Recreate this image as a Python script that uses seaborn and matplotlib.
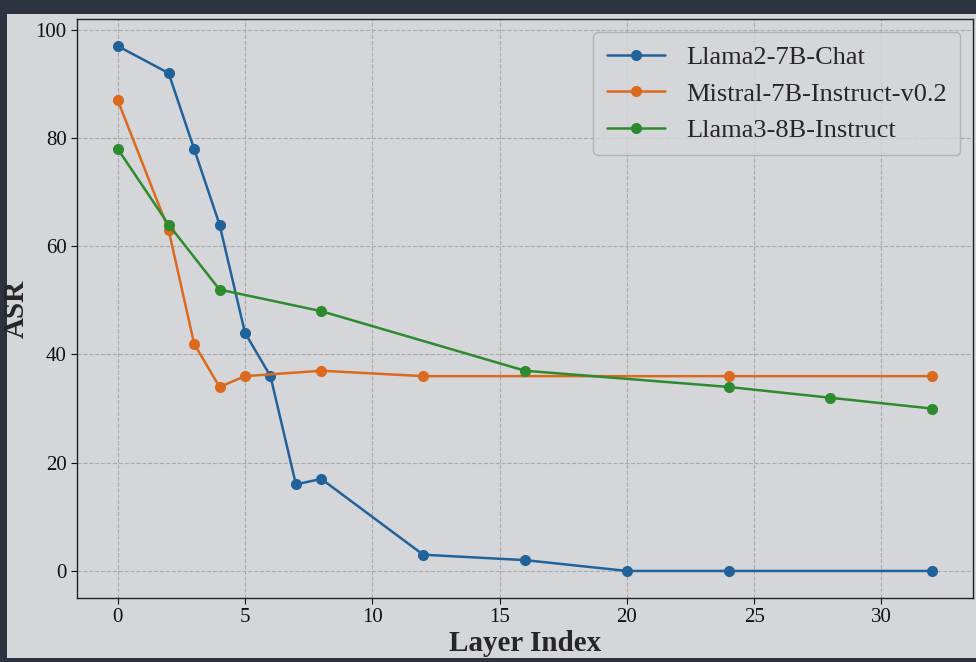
import matplotlib
matplotlib.use("Agg")
import matplotlib.pyplot as plt
import seaborn as sns
import pandas as pd

llama2_x = [0, 2, 3, 4, 5, 6, 7, 8, 12, 16, 20, 24, 32]
llama2_y = [97, 92, 78, 64, 44, 36, 16, 17, 3, 2, 0, 0, 0]
mistral_x = [0, 2, 3, 4, 5, 8, 12, 24, 32]
mistral_y = [87, 63, 42, 34, 36, 37, 36, 36, 36]
llama3_x = [0, 2, 4, 8, 16, 24, 28, 32]
llama3_y = [78, 64, 52, 48, 37, 34, 32, 30]
names = ["Llama2-7B-Chat", "Mistral-7B-Instruct-v0.2", "Llama3-8B-Instruct"]
colors = ["#22629a", "#dc6a1e", "#2e8a2e"]

df = pd.concat([
    pd.DataFrame({"Layer": llama2_x, "ASR": llama2_y, "Model": names[0]}),
    pd.DataFrame({"Layer": mistral_x, "ASR": mistral_y, "Model": names[1]}),
    pd.DataFrame({"Layer": llama3_x, "ASR": llama3_y, "Model": names[2]}),
])

sns.set_style("whitegrid")
plt.rcParams['font.family'] = ['Liberation Serif', 'DejaVu Serif']

bg = "#d5d6d9"
fig = plt.figure(figsize=(9.76, 6.62), dpi=100, facecolor="#2b3240")
bgax = fig.add_axes([7/976, 4/662, 969/976, 644/662], zorder=-1)
bgax.set_facecolor(bg)
bgax.set_axis_off()
bgax.add_patch(plt.Rectangle((0, 0), 1, 1, transform=bgax.transAxes, facecolor=bg, edgecolor="none"))

ax = fig.add_axes([77/976, 64/662, 896/976, 579/662], zorder=1)
ax.set_facecolor(bg)
sns.lineplot(data=df, x="Layer", y="ASR", hue="Model", palette=colors, marker="o",
             markersize=8, markeredgewidth=0, linewidth=1.8, ax=ax, sort=False)
ax.grid(True, linestyle="--", color="#aaaaaa", linewidth=0.8)
for s in ax.spines.values():
    s.set_color("#222222"); s.set_linewidth(1.0); s.set_visible(True)
ax.set_xlim(-1.6, 33.6)
ax.set_ylim(-5, 102)
ax.set_yticks([0, 20, 40, 60, 80, 100])
ax.set_xticks([0, 5, 10, 15, 20, 25, 30])
ax.tick_params(labelsize=15, colors="#111111", length=4, left=True, bottom=True)
ax.set_xlabel("Layer Index", fontsize=21, fontweight="bold", labelpad=2)
ax.set_ylabel("ASR", fontsize=21, fontweight="bold", labelpad=4)
leg = ax.legend(loc="upper right", fontsize=19, frameon=True, facecolor=bg,
                edgecolor="#aaaaaa", borderpad=0.5, handlelength=2.2)
leg.set_title(None)
fig.savefig("out.png", dpi=100, facecolor=fig.get_facecolor())
